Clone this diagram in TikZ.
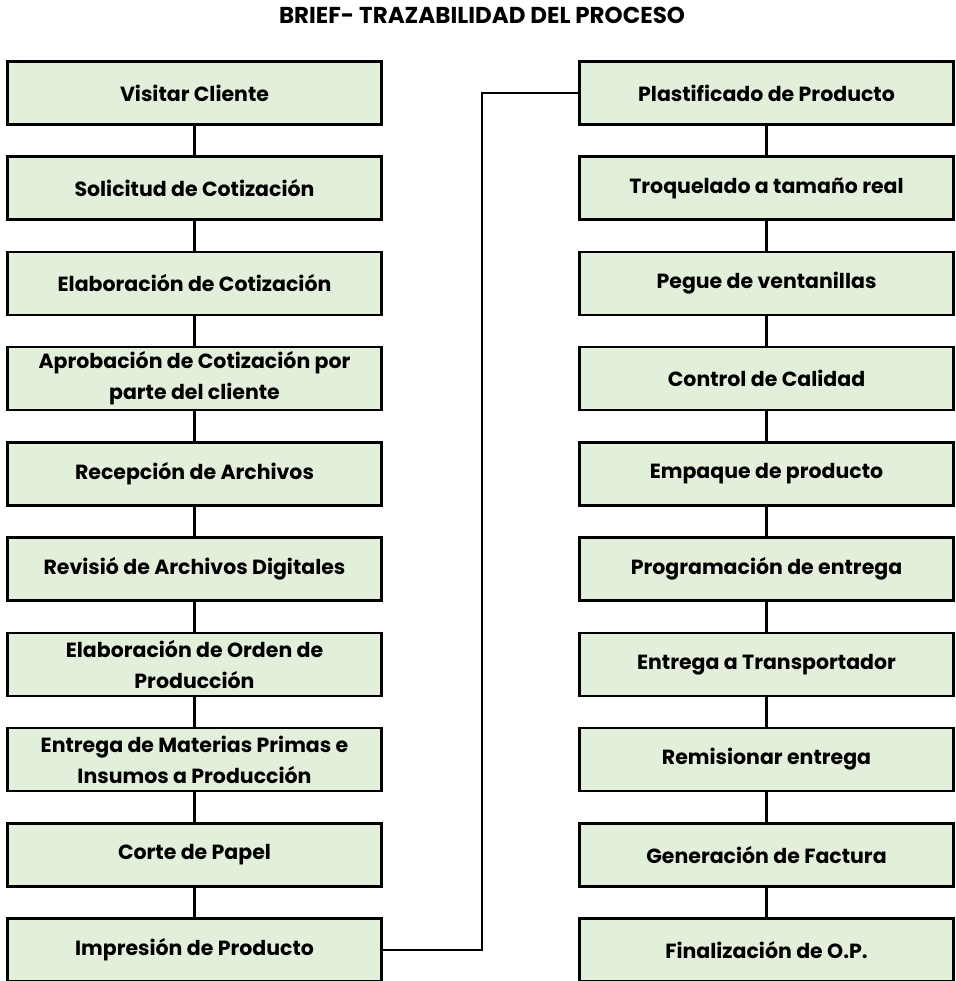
\documentclass[tikz,border=0pt]{standalone}
\usepackage{fontspec}
\setmainfont{Poppins}
\usepackage{xcolor}
\usepackage{tikz}
\usetikzlibrary{positioning}
\definecolor{verdecaja}{HTML}{E2EFDA}
\tikzstyle{caja} = [rectangle, minimum width=374pt, minimum height=63pt, text centered, align=center, draw=black, line width=2.6pt, fill=verdecaja, font=\bfseries\fontsize{20.5}{31}\selectfont, inner sep=0pt]
\tikzstyle{linea} = [line width=2.6pt]
\tikzstyle{codo} = [line width=2.2pt]

\begin{document}
\begin{tikzpicture}[x=1pt, y=-1pt, node distance=95.22pt]
\useasboundingbox (0,0) rectangle (955,981);
\node (titulo) at (482,15.5) {\bfseries\fontsize{23}{26}\selectfont BRIEF- TRAZABILIDAD DEL PROCESO};

% columna izquierda
\node (visita) [caja] at (194.5,93) {Visitar Cliente};
\node (solicitud) [caja, below of=visita] {Solicitud de Cotización};
\node (elabcot) [caja, below of=solicitud] {Elaboración de Cotización};
\node (aprob) [caja, below of=elabcot] {Aprobación de Cotización por\\parte del cliente};
\node (recep) [caja, below of=aprob] {Recepción de Archivos};
\node (revision) [caja, below of=recep] {Revisió de Archivos Digitales};
\node (orden) [caja, below of=revision] {Elaboración de Orden de\\Producción};
\node (insumos) [caja, below of=orden] {Entrega de Materias Primas e\\Insumos a Producción};
\node (corte) [caja, below of=insumos] {Corte de Papel};
\node (impresion) [caja, below of=corte] {Impresión de Producto};

% columna derecha
\node (plast) [caja, right of=visita, xshift=476.78pt] {Plastificado de Producto};
\node (troquel) [caja, below of=plast] {Troquelado a tamaño real};
\node (pegue) [caja, below of=troquel] {Pegue de ventanillas};
\node (calidad) [caja, below of=pegue] {Control de Calidad};
\node (empaque) [caja, below of=calidad] {Empaque de producto};
\node (programa) [caja, below of=empaque] {Programación de entrega};
\node (transp) [caja, below of=programa] {Entrega a Transportador};
\node (remision) [caja, below of=transp] {Remisionar entrega};
\node (factura) [caja, below of=remision] {Generación de Factura};
\node (final) [caja, below of=factura] {Finalización de O.P.};

\draw [linea] (visita) -- (solicitud);
\draw [linea] (solicitud) -- (elabcot);
\draw [linea] (elabcot) -- (aprob);
\draw [linea] (aprob) -- (recep);
\draw [linea] (recep) -- (revision);
\draw [linea] (revision) -- (orden);
\draw [linea] (orden) -- (insumos);
\draw [linea] (insumos) -- (corte);
\draw [linea] (corte) -- (impresion);

\draw [codo] (impresion.east) -- ++(99.5pt,0) |- (plast.west);

\draw [linea] (plast) -- (troquel);
\draw [linea] (troquel) -- (pegue);
\draw [linea] (pegue) -- (calidad);
\draw [linea] (calidad) -- (empaque);
\draw [linea] (empaque) -- (programa);
\draw [linea] (programa) -- (transp);
\draw [linea] (transp) -- (remision);
\draw [linea] (remision) -- (factura);
\draw [linea] (factura) -- (final);
\end{tikzpicture}
\end{document}
